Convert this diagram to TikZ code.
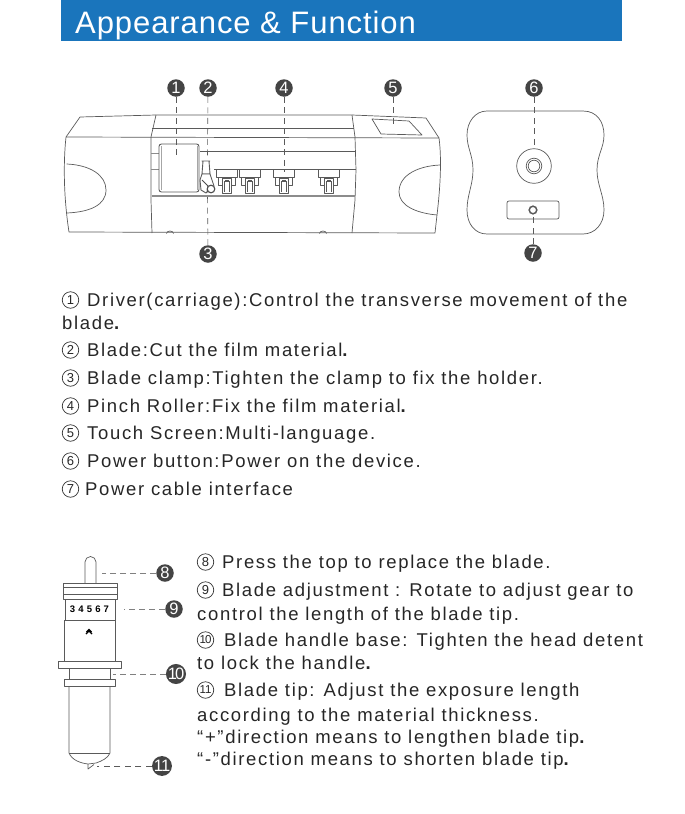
\documentclass[tikz,border=0pt]{standalone}
\usepackage{fontspec}
\setmainfont[LetterSpace=9]{Liberation Sans}
\newfontfamily\headfont[LetterSpace=3]{Liberation Sans}
\newfontfamily\badgefont{Liberation Sans}
\newcommand{\pd}{{\bfseries .}}
\definecolor{hdr}{HTML}{1A75BC}
\definecolor{ln}{HTML}{5A5A5A}
\definecolor{bdg}{HTML}{444444}
\tikzset{
 x=1pt,y=-1pt,
 outl/.style={draw=ln,line width=.7pt,line join=round},
 dashl/.style={draw=ln,line width=.6pt,dash pattern=on 6pt off 4.5pt},
 dashg/.style={draw=black!50,line width=.8pt,dash pattern=on 6pt off 4pt},
 badge/.style={circle,fill=bdg,text=white,inner sep=0pt,minimum size=17.5pt,font=\badgefont\fontsize{16.5}{16}\selectfont},
 txt/.style={anchor=base west,inner sep=0pt,yshift=1pt,text=black!85,font=\fontsize{18.5}{19}\selectfont},
 circnum/.style={circle,draw=black!80,line width=.7pt,inner sep=0pt,minimum size=16.5pt,text=black!85,font=\badgefont\fontsize{13}{13}\selectfont},
 roller/.pic={
  \draw[outl] (-10.5,0) -- (-10.5,8) -- (10.5,8) -- (10.5,0);
  \draw[outl] (-8.5,8) -- (-8.5,16) -- (-4,16);
  \draw[outl] (8.5,8) -- (8.5,16) -- (4,16);
  \draw[outl,fill=white] (-4.5,9) -- (-4.5,24) -- (4.5,24) -- (4.5,9) -- cycle;
  \draw[draw=black!65,line width=1.3pt] (-2.2,12) -- (-2.2,23) (2.2,12) -- (2.2,23) (-2.2,12) -- (2.2,12);
 }
}
\begin{document}
\begin{tikzpicture}
\useasboundingbox (0,0) rectangle (685,814);
% header
\fill[hdr] (61,0) rectangle (622,41);
\node[anchor=base west,inner sep=0pt,text=white,font=\headfont\fontsize{31}{32}\selectfont] (title) at (75,33) {Appearance \& Function};
% machine
\draw[outl] (80,117) -- (156,115) -- (352,115) -- (426,118) -- (439,138)
  .. controls (442,160) and (440,190) .. (437,215) -- (435,233) -- (69,232)
  .. controls (64,200) and (63,165) .. (66,137) -- cycle;
\draw[outl] (66,137) -- (439,138);
\draw[outl] (156,115) -- (151,137) -- (151,200) -- (152,233);
\draw[outl] (352,115) -- (355,137) -- (356,170) -- (355,200) -- (352,233);
\draw[outl] (152,128) -- (354,128);
\draw[outl] (200,151) -- (356,151);
\draw[outl] (214,169) -- (356,169);
\draw[outl,draw=black!45,line width=1.2pt] (152,196) -- (355,196);
\draw[outl,draw=black!45] (151,153) -- (159,153) (151,169) -- (159,169);
\draw[outl] (66.7,164) .. controls (90,165) and (106,175) .. (106,190) .. controls (106,205) and (90,212) .. (67,213);
\draw[outl] (440,165) .. controls (418,166) and (399,175) .. (399,192) .. controls (399,205) and (415,213) .. (437,215);
\draw[outl] (166.5,233.5) arc[start angle=180,end angle=0,x radius=3.5,y radius=-2.5];
\draw[outl] (319.5,233.5) arc[start angle=180,end angle=0,x radius=3.5,y radius=-2.5];
\draw[outl] (372,119) -- (409,121) -- (422,135) -- (381,134) -- cycle;
% carriage
\draw[outl,line width=.9pt,rounded corners=2.5pt] (159,144) rectangle (199,192);
\draw[draw=black!35,line width=1pt] (161,146) -- (161,190) (197,146) -- (197,190);
% rollers
\pic at (227,169) {roller};
\pic at (250,169) {roller};
\pic at (284,169) {roller};
\pic at (329,169) {roller};
% blade holder on the machine
\draw[outl,line width=.9pt] (201.5,161) -- (210,161) (203,161) -- (202,174) -- (210,174) -- (209,161);
\draw[outl,fill=white,line width=.9pt] (202,174) -- (200,180) -- (201,190) -- (206,193) -- (214,186) -- (210,174) -- cycle;
\draw[draw=black!70,line width=.9pt] (202,180) -- (208,186) -- (207,192);
\draw[draw=black!70,line width=1.1pt,fill=white] (211,189) circle[radius=3.8];
\coordinate (bladeTop) at (207.5,158);
\coordinate (bladeLow) at (207.5,193);
% side view
\draw[outl] (487,111) -- (583,111) .. controls (597,111) and (604,122) .. (604,135)
  .. controls (604,148) and (597,155) .. (597,170) .. controls (597,185) and (604,195) .. (604,210)
  .. controls (604,224) and (595,234) .. (583,234) -- (487,234)
  .. controls (475,234) and (467,224) .. (467,210) .. controls (467,195) and (473,185) .. (473,170)
  .. controls (473,155) and (467,148) .. (467,135) .. controls (467,122) and (475,111) .. (487,111) -- cycle;
\draw[outl] (534,166) circle[radius=17.3];
\draw[outl] (534,166) circle[radius=7.8];
\draw[outl] (534,166) circle[radius=5.8];
\draw[outl,rounded corners=2pt] (507,201) rectangle (559,219);
\draw[draw=ln,line width=1.5pt] (533,210) circle[radius=3.8];
% badges top
\node[badge] (b1) at (176,88) {1};
\node[badge] (b2) at (208,88) {2};
\node[badge] (b3) at (208,254) {3};
\node[badge] (b4) at (284,88) {4};
\node[badge] (b5) at (393,88) {5};
\node[badge] (b6) at (534,88) {6};
\node[badge] (b7) at (533,253) {7};
\coordinate (e1) at (176,157);
\coordinate (e4) at (284,172);
\coordinate (e5) at (393,124);
\coordinate (e6) at (534,148);
\coordinate (e7) at (533,214);
\draw[dashl] (b1) -- (e1);
\draw[dashl] (b2) -- (bladeTop);
\draw[dashl] (b3) -- (bladeLow);
\draw[dashl] (b4) -- (e4);
\draw[dashl] (b5) -- (e5);
\draw[dashl] (b6) -- (e6);
\draw[dashl] (b7) -- (e7);
% text top
\node[circnum] (c1) at (70.5,300) {1};
\node[txt] (t1) at (87,307) {Driver(carriage):Control the transverse movement of the};
\node[txt] (t1b) at (62,330) {blade\pd};
\node[circnum] (c2) at (70.5,350) {2};
\node[txt] (t2) at (87,357) {Blade:Cut the film material\pd};
\node[circnum] (c3) at (70.5,378) {3};
\node[txt] (t3) at (87,385) {Blade clamp:Tighten the clamp to fix the holder.};
\node[circnum] (c4) at (70.5,406) {4};
\node[txt] (t4) at (87,413) {Pinch Roller:Fix the film material\pd};
\node[circnum] (c5) at (70.5,433) {5};
\node[txt] (t5) at (87,440) {Touch Screen:Multi-language.};
\node[circnum] (c6) at (70.5,461) {6};
\node[txt] (t6) at (87,468) {Power button:Power on the device.};
\node[circnum] (c7) at (70.5,489) {7};
\node[txt] (t7) at (85,496) {Power cable interface};
% tool
\draw[outl] (85,583) -- (85,562) arc[start angle=180,end angle=0,radius=5.5,y radius=-5.5] -- (96,583);
\draw[outl] (63,583) rectangle (117,599);
\draw[outl] (63,587) -- (117,587) (63,594) -- (117,594);
\draw[outl] (65,599) rectangle (115,620);
\node[inner sep=0pt,font=\badgefont\bfseries\fontsize{9.5}{10}\selectfont] (dial) at (89.5,609) {3\,\,4\,\,5\,\,6\,\,7};
\draw[outl] (64,620) rectangle (115,661);
\draw[draw=black,line width=1.2pt] (86,634) -- (89,631) -- (92,634) (86.5,632) -- (89,629.5) -- (91.5,632);
\draw[outl,fill=white] (58,661) rectangle (121,668);
\draw[outl] (69,668) rectangle (110,679);
\draw[outl,fill=white] (64.5,679) rectangle (115,686);
\draw[outl] (69,686) -- (69,753) .. controls (72,760) and (80,763) .. (88,764) -- (96,763) .. controls (102,761) and (108,758) .. (110,753) -- (110,686);
\draw[outl] (69,753) -- (110,753);
\draw[outl] (88,764) -- (88,769) -- (94,764.5);
\node[badge] (b8) at (165,573) {8};
\node[badge] (b9) at (174,609) {9};
\node[badge] (b10) at (176,674) {1\kern-2pt 0};
\node[badge] (b11) at (162,766) {1\kern-2pt 1};
\coordinate (e8) at (102,573);
\coordinate (e9) at (124,609);
\coordinate (e10) at (113,674);
\coordinate (e11) at (97,766);
\draw[dashg] (b8) -- (e8);
\draw[dashg] (b9) -- (e9);
\draw[dashg] (b10) -- (e10);
\draw[dashl] (b11) -- (e11);
% text lower
\node[circnum] (c8) at (205.5,562) {8};
\node[txt] (t8) at (222,569) {Press the top to replace the blade.};
\node[circnum] (c9) at (205.5,590) {9};
\node[txt] (t9) at (222,597) {Blade adjustment : Rotate to adjust gear to};
\node[txt] (t9b) at (197,621) {control the length of the blade tip.};
\node[circnum,font=\badgefont\fontsize{11.5}{12}\selectfont] (c10) at (205.5,640) {1\kern-1pt 0};
\node[txt] (t10) at (224,647) {Blade handle base: Tighten the head detent};
\node[txt] (t10b) at (197,670) {to lock the handle\pd};
\node[circnum,font=\badgefont\fontsize{11.5}{12}\selectfont] (c11) at (205.5,690) {1\kern-1pt 1};
\node[txt] (t11) at (224,697) {Blade tip: Adjust the exposure length};
\node[txt] (t11b) at (197,722) {according to the material thickness.};
\node[txt] (t12) at (197,744) {“+”direction means to lengthen blade tip\pd};
\node[txt] (t13) at (197,766) {“-”direction means to shorten blade tip\pd};
\end{tikzpicture}
\end{document}
